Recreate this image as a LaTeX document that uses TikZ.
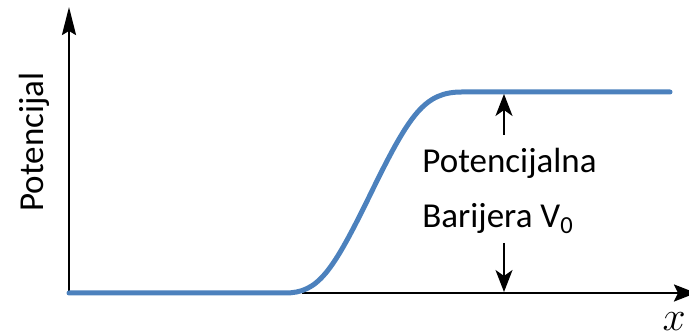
\documentclass[tikz,border=0pt]{standalone}
\usepackage{fontspec}
\setmainfont{Carlito}
\usepackage{xcolor}
\usetikzlibrary{arrows.meta}

\definecolor{curveblue}{RGB}{76,129,189}

\begin{document}
\begin{tikzpicture}[x=0.5pt, y=0.5pt,
    axis/.style={line width=1.2pt},
    marker/.style={line width=1pt, -{Stealth[length=11pt,width=8.5pt,inset=3pt]}},
    label/.style={font=\fontsize{17.5}{20}\selectfont, inner sep=0pt}
]
    \useasboundingbox (0,0) rectangle (689,335);

    % Axes
    \coordinate (O) at (69,42);
    \coordinate (Ytop) at (69,328);
    \coordinate (Xstart) at (302,42);
    \coordinate (Xend) at (696,42);
    \draw[axis, -{Stealth[length=14pt,width=7pt,inset=2pt]}] (O) -- (Ytop);
    \draw[axis, -{Stealth[length=11pt,width=8.5pt,inset=2pt]}] (Xstart) -- (Xend);

    % Potential step
    \draw[curveblue, line width=2.5pt, line cap=round]
        (O) -- (285,42)
        .. controls (318,42) and (332,62) .. (371,142)
        .. controls (410,222) and (425,243) .. (462,243)
        -- (670,243);

    % Labels
    \node[label, rotate=90, anchor=base] (ylab) at (43,193) {Potencijal};
    \node[label, anchor=base west] (top) at (422,162) {Potencijalna};
    \node[label, anchor=base west] (bot) at (422,107) {Barijera V\textsubscript{0}};
    \node[font=\fontsize{21}{24}\selectfont, inner sep=0pt, anchor=south east] (xlab) at (686,4) {$x$};

    % Barrier height markers
    \coordinate (Mup) at (504,200);
    \coordinate (Mtop) at (504,241);
    \coordinate (Mdown) at (504,92);
    \coordinate (Mbot) at (504,43);
    \draw[marker] (Mup) -- (Mtop);
    \draw[marker] (Mdown) -- (Mbot);
\end{tikzpicture}
\end{document}
